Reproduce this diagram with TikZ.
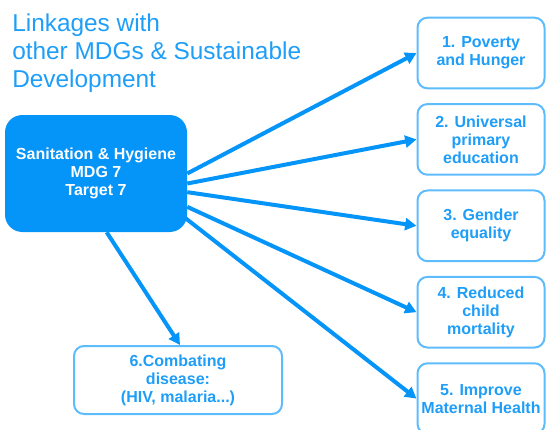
\documentclass[tikz,border=0pt]{standalone}
\usepackage{fontspec}
\setmainfont{Liberation Sans}
\usepackage{tikz}
\usetikzlibrary{positioning, arrows.meta}

\definecolor{mdgblue}{RGB}{5,148,248}
\definecolor{mdgtext}{RGB}{30,158,248}
\definecolor{mdgline}{RGB}{95,188,252}

\begin{document}
\begin{tikzpicture}[x=0.75pt, y=-0.75pt,
  goalbox/.style={draw=mdgline, line width=1.5pt, rounded corners=7.5pt, fill=white,
    text=mdgtext, align=center, font=\fontsize{12}{13.5}\selectfont\bfseries,
    minimum width=95.25pt, minimum height=53pt, inner sep=2pt},
  mainbox/.style={fill=mdgblue, rounded corners=13pt, text=white, align=center,
    font=\fontsize{12}{13.5}\selectfont\bfseries,
    minimum width=136.5pt, minimum height=87.75pt},
  link/.style={draw=mdgblue, line width=3pt, -{Triangle[length=8.5pt, width=9pt]}}]
  \useasboundingbox (0,0) rectangle (546,429);

  \node[anchor=north west, inner sep=0, text=mdgtext, align=left,
    font=\fontsize{18.3}{21}\selectfont] (title) at (12,14)
    {Linkages with\\other MDGs \& Sustainable\\Development};

  \node[mainbox] (main) at (96,173.5) {Sanitation \& Hygiene\\MDG 7\\Target 7};

  \node[goalbox] (g1) at (481,53) {1. Poverty\\and Hunger};
  \node[goalbox, below=10.3pt of g1] (g2) {2. Universal\\primary\\education};
  \node[goalbox, below=10.3pt of g2] (g3) {3. Gender\\equality};
  \node[goalbox, below=10.3pt of g3] (g4) {4. Reduced\\child\\mortality};
  \node[goalbox, below=10.3pt of g4] (g5) {5. Improve\\Maternal Health};
  \node[goalbox, minimum width=156pt, minimum height=51pt] (g6) at (178,380)
    {6.Combating\\disease:\\(HIV, malaria...)};

  \draw[link] (main.east) -- (g1.west);
  \draw[link] ([yshift=-7.5pt]main.east) -- (g2.west);
  \draw[link] ([yshift=-14pt]main.east) -- (g3.west);
  \draw[link] ([yshift=-25pt]main.east) -- (g4.west);
  \draw[link] ([xshift=-2pt, yshift=-33pt]main.east) -- (g5.west);
  \draw[link] ([xshift=8pt]main.south) -- ([xshift=1.5pt]g6.north);
\end{tikzpicture}
\end{document}
